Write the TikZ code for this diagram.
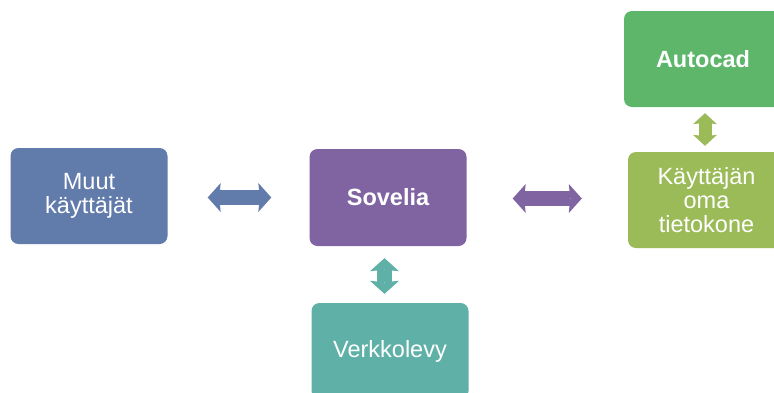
\documentclass[tikz,border=0pt]{standalone}
\usepackage{fontspec}
\setmainfont{Liberation Sans}
\usetikzlibrary{arrows.meta,calc}

\definecolor{muutblue}{HTML}{617BAB}
\definecolor{sovpurple}{HTML}{8064A2}
\definecolor{acadgreen}{HTML}{5DB66A}
\definecolor{pcgreen}{HTML}{9BBB59}
\definecolor{verkteal}{HTML}{5FB0A6}

\begin{document}
\begin{tikzpicture}[x=1pt,y=-1pt,
  box/.style={rounded corners=8pt,text=white,align=center,inner sep=0pt,
    minimum width=157pt,minimum height=96pt,
    font=\fontsize{23.5}{24}\selectfont},
  link/.style={line width=15pt,
    {Stealth[width=29pt,length=13pt,inset=1.5pt,line width=0pt]}-{Stealth[width=29pt,length=13pt,inset=1.5pt,line width=0pt]}},
  smalllink/.style={line width=13pt,
    {Stealth[width=24pt,length=11pt,inset=1.5pt,line width=0pt]}-{Stealth[width=24pt,length=11pt,inset=1.5pt,line width=0pt]}}]
\useasboundingbox (0,0) rectangle (774,392);
\node[box,fill=muutblue] (muut) at (89,196) {Muut\\käyttäjät};
\node[box,fill=sovpurple,minimum height=97pt,font=\fontsize{23.5}{24}\selectfont\bfseries] (sovelia) at (388,197.5) {Sovelia};
\node[box,fill=pcgreen] (kone) at (706.5,200) {Käyttäjän\\oma\\tietokone};
\node[box,fill=acadgreen,minimum width=158pt,font=\fontsize{23.5}{24}\selectfont\bfseries] (acad) at (703,59) {Autocad};
\node[box,fill=verkteal] (verkko) at (390,351) {Verkkolevy};
\draw[link,muutblue,shorten <=40pt,shorten >=38pt] ([yshift=-1.5pt]muut.east) -- (sovelia.west);
\draw[link,sovpurple,shorten <=46pt,shorten >=46pt] ([yshift=-1pt]sovelia.east) -- ([yshift=-1pt]sovelia.east -| kone.west);
\draw[link,verkteal,shorten <=12pt,shorten >=9pt] ([xshift=-3.5pt]sovelia.south) -- ([xshift=-3.5pt]sovelia.south |- verkko.north);
\draw[smalllink,pcgreen,shorten <=6pt,shorten >=6pt] ([xshift=2pt]acad.south) -- ([xshift=2pt]acad.south |- kone.north);
\end{tikzpicture}
\end{document}
